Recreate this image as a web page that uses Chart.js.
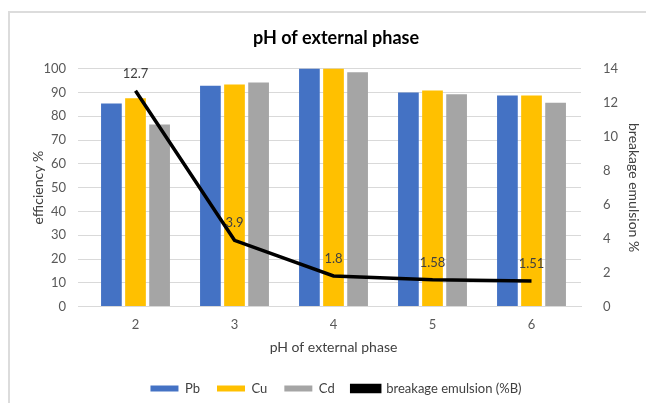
<!DOCTYPE html>
<html>
<head>
<meta charset="utf-8">
<script src="https://cdn.jsdelivr.net/npm/chart.js@4.4.1/dist/chart.umd.min.js"></script>
<style>
  html, body { margin: 0; padding: 0; background: #fff; }
  #wrap { position: relative; width: 646px; height: 403px; overflow: hidden; }
  #frame { position: absolute; left: 8px; top: 11px; width: 700px; height: 500px;
           border-left: 2px solid #dcdcdc; border-top: 2px solid #dcdcdc; }
  canvas { position: absolute; left: 0; top: 0; }
</style>
</head>
<body>
<div id="wrap">
  <div id="frame"></div>
  <canvas id="chart" width="646" height="403"></canvas>
</div>
<script>
const phLabels = ["2", "3", "4", "5", "6"];
const pbValues = [85.3, 92.8, 100, 90, 88.7];
const cuValues = [87.5, 93.3, 100, 90.8, 88.7];
const cdValues = [76.5, 94.2, 98.5, 89.2, 85.7];
const breakageValues = [12.7, 3.9, 1.8, 1.58, 1.51];

const font = "Lato";

// draws the value labels above the breakage line
const lineLabels = {
    id: "lineLabels",
    afterDatasetsDraw(chart) {
        const ctx = chart.ctx;
        const meta = chart.getDatasetMeta(3);
        ctx.save();
        ctx.font = "13px " + font;
        ctx.fillStyle = "#404040";
        ctx.textAlign = "center";
        ctx.textBaseline = "middle";
        meta.data.forEach((pt, i) => {
            ctx.fillText(String(breakageValues[i]), pt.x, pt.y - 17);
        });
        ctx.restore();
    }
};

const canvas = document.getElementById("chart");

new Chart(canvas, {
    type: "bar",
    data: {
        labels: phLabels,
        datasets: [
            { label: "Pb", data: pbValues, backgroundColor: "#4472C4", yAxisID: "y", order: 1 },
            { label: "Cu", data: cuValues, backgroundColor: "#FFC000", yAxisID: "y", order: 1 },
            { label: "Cd", data: cdValues, backgroundColor: "#A5A5A5", yAxisID: "y", order: 1 },
            {
                type: "line",
                label: "breakage emulsion (%B)",
                data: breakageValues,
                borderColor: "#000000",
                backgroundColor: "#000000",
                borderWidth: 3.5,
                pointRadius: 0,
                tension: 0,
                yAxisID: "y1",
                order: 0
            }
        ]
    },
    options: {
        responsive: false,
        animation: false,
        layout: { padding: { left: 30, right: 4, top: 0, bottom: -2 } },
        datasets: {
            bar: { categoryPercentage: 0.73, barPercentage: 0.86 }
        },
        plugins: {
            title: {
                display: true,
                text: "pH of external phase",
                color: "#000000",
                font: { family: font, size: 18, weight: "bold" },
                padding: { top: 27, bottom: 20 }
            },
            legend: {
                position: "bottom",
                labels: {
                    color: "#404040",
                    font: { family: font, size: 13 },
                    boxWidth: 28,
                    boxHeight: 6,
                    padding: 17,
                    sort: (a, b) => a.datasetIndex - b.datasetIndex
                }
            },
            tooltip: { enabled: false }
        },
        scales: {
            x: {
                grid: { display: false, drawTicks: false },
                border: { color: "#d9d9d9", width: 1 },
                ticks: { color: "#595959", font: { family: font, size: 13 }, padding: 10 },
                title: {
                    display: true,
                    text: "pH of external phase",
                    color: "#404040",
                    font: { family: font, size: 14 },
                    padding: { top: -3, bottom: 9 }
                }
            },
            y: {
                position: "left",
                min: 0,
                max: 100,
                ticks: { stepSize: 10, color: "#595959", font: { family: font, size: 13 }, padding: 12 },
                grid: { color: "#d9d9d9" },
                border: { display: false },
                title: {
                    display: true,
                    text: "efficiency %",
                    color: "#404040",
                    font: { family: font, size: 14 },
                    padding: 0
                },
                afterFit(scale) { scale.width = 56; }
            },
            y1: {
                position: "right",
                min: 0,
                max: 14,
                ticks: { stepSize: 2, color: "#595959", font: { family: font, size: 13 }, padding: 14 },
                grid: { display: false },
                border: { display: false },
                title: {
                    display: true,
                    text: "breakage emulsion %",
                    color: "#404040",
                    font: { family: font, size: 14 },
                    padding: 0
                },
                afterFit(scale) { scale.width = 61; }
            }
        }
    },
    plugins: [lineLabels]
});
</script>
</body>
</html>
